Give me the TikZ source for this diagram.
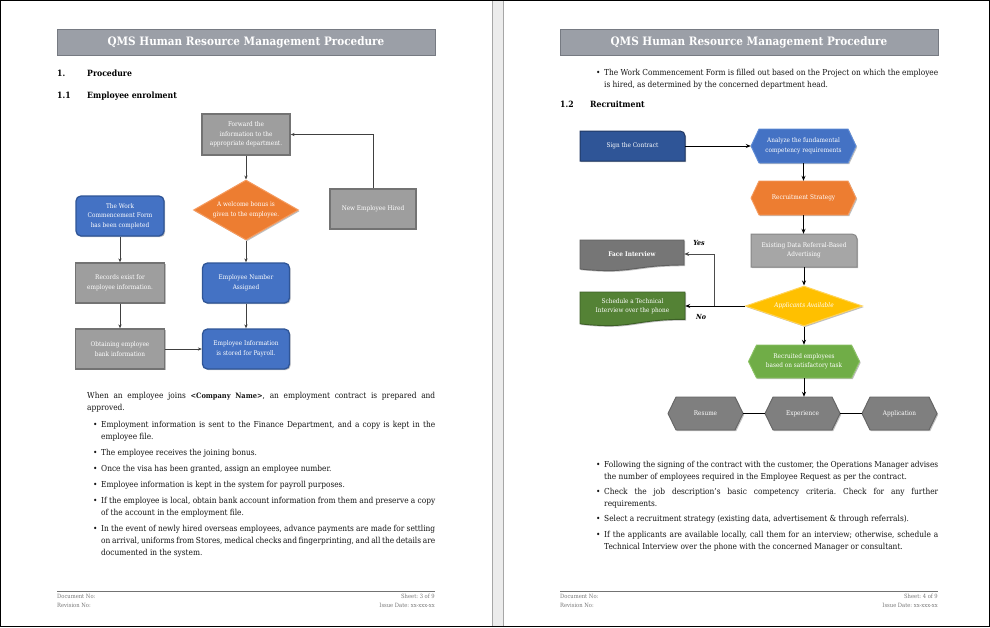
\documentclass[tikz,border=0pt]{standalone}
\usepackage{fontspec}
\setmainfont{DejaVu Serif Condensed}
\usetikzlibrary{shapes.geometric,shadows,arrows.meta,calc}
\definecolor{titlegray}{RGB}{155,159,167}
\definecolor{titlegrayd}{RGB}{118,122,130}
\definecolor{boxgray}{RGB}{158,158,158}
\definecolor{boxgrayd}{RGB}{115,115,115}
\definecolor{bblue}{RGB}{68,114,196}
\definecolor{bblued}{RGB}{47,85,151}
\definecolor{bbluel}{RGB}{95,140,215}
\definecolor{dblue}{RGB}{47,85,151}
\definecolor{dblued}{RGB}{32,56,100}
\definecolor{orng}{RGB}{237,125,49}
\definecolor{orngl}{RGB}{245,155,95}
\definecolor{lgray}{RGB}{166,166,166}
\definecolor{lgrayd}{RGB}{135,135,135}
\definecolor{gold}{RGB}{255,192,0}
\definecolor{goldl}{RGB}{255,212,90}
\definecolor{dgray}{RGB}{118,118,118}
\definecolor{dgrayd}{RGB}{95,95,95}
\definecolor{dgreen}{RGB}{84,130,53}
\definecolor{dgreend}{RGB}{60,95,38}
\definecolor{lgreen}{RGB}{112,173,71}
\definecolor{lgreenl}{RGB}{140,195,100}
\definecolor{hexgray}{RGB}{127,127,127}
\definecolor{hexgrayd}{RGB}{100,100,100}
\definecolor{foot}{RGB}{120,120,120}
\definecolor{textc}{RGB}{20,20,20}
\definecolor{gapgray}{RGB}{236,236,236}
\frenchspacing
\newcommand\bodyf{\fontsize{8.25}{12}\selectfont\spaceskip=0.28em plus 2em minus 0.12em\relax}
\newcommand\boxf{\fontsize{6.4}{9.5}\selectfont}
\newcommand\hexn[8]{%
  \pgfmathsetmacro\hxl{#2-#4/2}\pgfmathsetmacro\hxr{#2+#4/2}%
  \pgfmathsetmacro\hxt{#3-#5/2}\pgfmathsetmacro\hxb{#3+#5/2}%
  \pgfmathsetmacro\hxli{\hxl+8}\pgfmathsetmacro\hxri{\hxr-8}%
  \filldraw[fill=#6,draw=#7,line width=0.9pt,shad] (\hxl,#3) -- (\hxli,\hxt) -- (\hxri,\hxt) -- (\hxr,#3) -- (\hxri,\hxb) -- (\hxli,\hxb) -- cycle;
  \node[lab, minimum width=#4pt, minimum height=#5pt] (#1) at (#2,#3) {#8};}
\tikzset{
  shad/.style={drop shadow={opacity=0.25, shadow xshift=1.2pt, shadow yshift=-1.2pt, fill=black}},
  fbox/.style={draw, line width=1.3pt, align=center, text=white, font=\boxf, inner sep=1pt, shad},
  graybox/.style={fbox, fill=boxgray, draw=boxgrayd},
  bluebox/.style={fbox, fill=bblue, draw=bblued, rounded corners=5pt},
  conn/.style={draw=black!75, line width=0.7pt, -{Stealth[length=4pt,width=3.2pt]}},
  rconn/.style={draw=black, line width=0.8pt, -{Stealth[length=5pt,width=4pt]}},
  body/.style={anchor=base west, inner sep=0pt, font=\bodyf, text=textc},
  head/.style={anchor=base west, inner sep=0pt, font=\bfseries\fontsize{8.6}{10}\selectfont, text=black},
  lab/.style={inner sep=0pt, align=center, text=white, font=\boxf},
  foottxt/.style={inner sep=0pt, font=\fontsize{5.8}{7}\selectfont, text=foot},
  titlebar/.style={fill=titlegray, draw=titlegrayd, line width=0.8pt, minimum width=378pt, minimum height=26pt, text=white, font=\bfseries\fontsize{11.6}{14}\selectfont, inner sep=0pt},
  yn/.style={inner sep=0pt, font=\bfseries\itshape\fontsize{7}{8}\selectfont, text=black}
}
\begin{document}
\begin{tikzpicture}[x=1pt,y=-1pt]
\useasboundingbox (0,0) rectangle (990,627);
\fill[white] (0,0) rectangle (990,627);
\fill[gapgray] (492,0) rectangle (503,627);
\draw[black!35, line width=0.6pt] (492,0) -- (492,627) (503,0) -- (503,627);
\draw[black, line width=1pt] (0.5,0.5) rectangle (989.5,626.5);

% ---------------- LEFT PAGE ----------------
\node[titlebar] (title1) at (246,42) {QMS Human Resource Management Procedure};
\node[head] (h1n) at (57,76) {1.};
\node[head] (h1t) at (87,76) {Procedure};
\node[head] (h11n) at (57,98) {1.1};
\node[head] (h11t) at (87,98) {Employee enrolment};

\node[graybox, minimum width=88pt, minimum height=41pt] (fwd) at (246,134.5) {Forward the\\information to the\\appropriate department.};
\node[fbox, diamond, fill=orng, draw=orngl, line width=1pt, minimum width=105pt, minimum height=60pt, aspect=1.75] (bonus) at (246,210) {A welcome bonus is\\given to the employee.};
\node[bluebox, minimum width=88pt, minimum height=40pt] (wcf) at (120,216) {The Work\\Commencement Form\\has been completed};
\node[graybox, minimum width=86pt, minimum height=40pt] (neh) at (373,209) {New Employee Hired};
\node[graybox, minimum width=89pt, minimum height=40pt] (rec) at (120,283) {Records exist for\\employee information.};
\node[bluebox, minimum width=87pt, minimum height=40pt] (enum) at (246,283) {Employee Number\\Assigned};
\node[graybox, minimum width=89pt, minimum height=40pt] (obt) at (120,349) {Obtaining employee\\bank information};
\node[bluebox, minimum width=87pt, minimum height=40pt] (einfo) at (246,349) {Employee Information\\is stored for Payroll.};

\draw[conn] (neh.north) |- (fwd.east);
\draw[conn] (fwd.south) -- (bonus.north);
\draw[conn] (bonus.south) -- (enum.north);
\draw[conn] (enum.south) -- (einfo.north);
\draw[conn] (wcf.south) -- (rec.north);
\draw[conn] (rec.south) -- (obt.north);
\draw[conn] (obt.east) -- (einfo.west);

\node[body] (l1) at (87,398) {\makebox[348pt][s]{When an employee joins {\bfseries\fontsize{7.4}{9}\selectfont <Company Name>}, an employment contract is prepared and}};
\node[body] (l2) at (87,410) {approved.};
\node[body] (b1) at (93,427) {•};
\node[body] (l3) at (101,427) {\makebox[334pt][s]{Employment information is sent to the Finance Department, and a copy is kept in the}};
\node[body] (l4) at (101,439) {employee file.};
\node[body] (b2) at (93,455) {•};
\node[body] (l5) at (101,455) {The employee receives the joining bonus.};
\node[body] (b3) at (93,471) {•};
\node[body] (l6) at (101,471) {Once the visa has been granted, assign an employee number.};
\node[body] (b4) at (93,487) {•};
\node[body] (l7) at (101,487) {Employee information is kept in the system for payroll purposes.};
\node[body] (b5) at (93,503) {•};
\node[body] (l8) at (101,503) {\makebox[334pt][s]{If the employee is local, obtain bank account information from them and preserve a copy}};
\node[body] (l9) at (101,515) {of the account in the employment file.};
\node[body] (b6) at (93,531) {•};
\node[body] (l10) at (101,531) {\makebox[334pt][s]{In the event of newly hired overseas employees, advance payments are made for settling}};
\node[body] (l11) at (101,543) {\makebox[334pt][s]{on arrival, uniforms from Stores, medical checks and fingerprinting, and all the details are}};
\node[body] (l12) at (101,555) {documented in the system.};

\draw[black!55, line width=0.7pt] (57,591) -- (435,591);
\node[foottxt, anchor=base west] (f1) at (57,598) {Document No:};
\node[foottxt, anchor=base west] (f2) at (57,607) {Revision No:};
\node[foottxt, anchor=base east] (f3) at (435,598) {Sheet: 3 of 9};
\node[foottxt, anchor=base east] (f4) at (435,607) {Issue Date: xx-xxx-xx};

% ---------------- RIGHT PAGE ----------------
\node[titlebar] (title2) at (749,42) {QMS Human Resource Management Procedure};
\node[body] (b7) at (596,75) {•};
\node[body] (r1) at (604,75) {\makebox[334pt][s]{The Work Commencement Form is filled out based on the Project on which the employee}};
\node[body] (r2) at (604,87) {is hired, as determined by the concerned department head.};
\node[head] (h12n) at (560,107) {1.2};
\node[head] (h12t) at (590,107) {Recruitment};

% Sign the contract
\filldraw[fill=dblue, draw=dblued, line width=1pt, shad] (580,161) -- (580,131) -- (680,131) .. controls (683,131) and (685,133) .. (685,136) -- (685,161) -- cycle;
\node[lab, minimum width=105pt, minimum height=30pt] (sign) at (632.5,146) {Sign the Contract};
\hexn{analyze}{803.5}{146}{105}{34}{bblue}{bbluel}{Analyze the fundamental\\competency requirements}
\hexn{strat}{803.5}{198}{105}{34}{orng}{orngl}{Recruitment Strategy}
% Existing data
\filldraw[fill=lgray, draw=lgrayd, line width=1pt, shad] (751,267) -- (751,234) -- (852,234) .. controls (855,234) and (857,236) .. (857,239) -- (857,267) -- cycle;
\node[lab, minimum width=106pt, minimum height=33pt] (exist) at (804,250.5) {Existing Data Referral-Based\\Advertising};
\node[fbox, diamond, fill=gold, draw=goldl, line width=1pt, minimum width=117pt, minimum height=40pt, aspect=2.9, font=\itshape\boxf] (app) at (804,306) {Applicants Available};
% Face interview (document shape)
\filldraw[fill=dgray, draw=dgrayd, line width=0.9pt, shad] (580,240) -- (684,240) -- (684,265) .. controls (632,265) and (632,274.3) .. (580,269) -- cycle;
\node[lab, minimum width=104pt, minimum height=24pt, font=\bfseries\boxf] (face) at (632,254) {Face Interview};
% Schedule (document shape)
\filldraw[fill=dgreen, draw=dgreend, line width=0.9pt, shad] (580,292) -- (685,292) -- (685,319.3) .. controls (632.5,319.3) and (632.5,329.7) .. (580,323.8) -- cycle;
\node[lab, minimum width=105pt, minimum height=28pt] (sched) at (632.5,306) {Schedule a Technical\\Interview over the phone};
\hexn{recr}{804}{361.5}{111}{33}{lgreen}{lgreenl}{Recruited employees\\based on satisfactory task}
\hexn{resume}{705.5}{413.5}{75}{33}{hexgray}{hexgrayd}{Resume}
\hexn{exper}{802.5}{413.5}{75}{33}{hexgray}{hexgrayd}{Experience}
\hexn{appl}{899.5}{413.5}{75}{33}{hexgray}{hexgrayd}{Application}

\coordinate (split) at (714,306);
\draw[rconn] (sign.east) -- (analyze.west);
\draw[rconn] (analyze.south) -- (strat.north);
\draw[rconn] (strat.south) -- (strat.south |- exist.north);
\draw[rconn] (exist.south) -- (app.north);
\draw[rconn] (app.south) -- (recr.north);
\draw[rconn] (recr.south) -- (recr.south |- exper.north);
\draw[rconn] (app.west) -- (sched.east);
\draw[rconn, draw=black!70] (split) |- (face.east);
\draw[black, line width=0.8pt] (resume.east) -- (exper.west);
\draw[black, line width=0.8pt] (exper.east) -- (appl.west);
\node[yn] (yes) at (699,243) {Yes};
\node[yn] (no) at (701,317) {No};

\node[body] (b8) at (596,467) {•};
\node[body] (r3) at (604,467) {\makebox[334pt][s]{Following the signing of the contract with the customer, the Operations Manager advises}};
\node[body] (r4) at (604,479) {the number of employees required in the Employee Request as per the contract.};
\node[body] (b9) at (596,494) {•};
\node[body] (r5) at (604,494) {\makebox[334pt][s]{Check the job description’s basic competency criteria. Check for any further}};
\node[body] (r6) at (604,506) {requirements.};
\node[body] (b10) at (596,521) {•};
\node[body] (r7) at (604,521) {Select a recruitment strategy (existing data, advertisement \& through referrals).};
\node[body] (b11) at (596,537) {•};
\node[body] (r8) at (604,537) {\makebox[334pt][s]{If the applicants are available locally, call them for an interview; otherwise, schedule a}};
\node[body] (r9) at (604,549) {Technical Interview over the phone with the concerned Manager or consultant.};

\draw[black!55, line width=0.7pt] (560,591) -- (938,591);
\node[foottxt, anchor=base west] (f5) at (560,598) {Document No:};
\node[foottxt, anchor=base west] (f6) at (560,607) {Revision No:};
\node[foottxt, anchor=base east] (f7) at (938,598) {Sheet: 4 of 9};
\node[foottxt, anchor=base east] (f8) at (938,607) {Issue Date: xx-xxx-xx};
\end{tikzpicture}
\end{document}
